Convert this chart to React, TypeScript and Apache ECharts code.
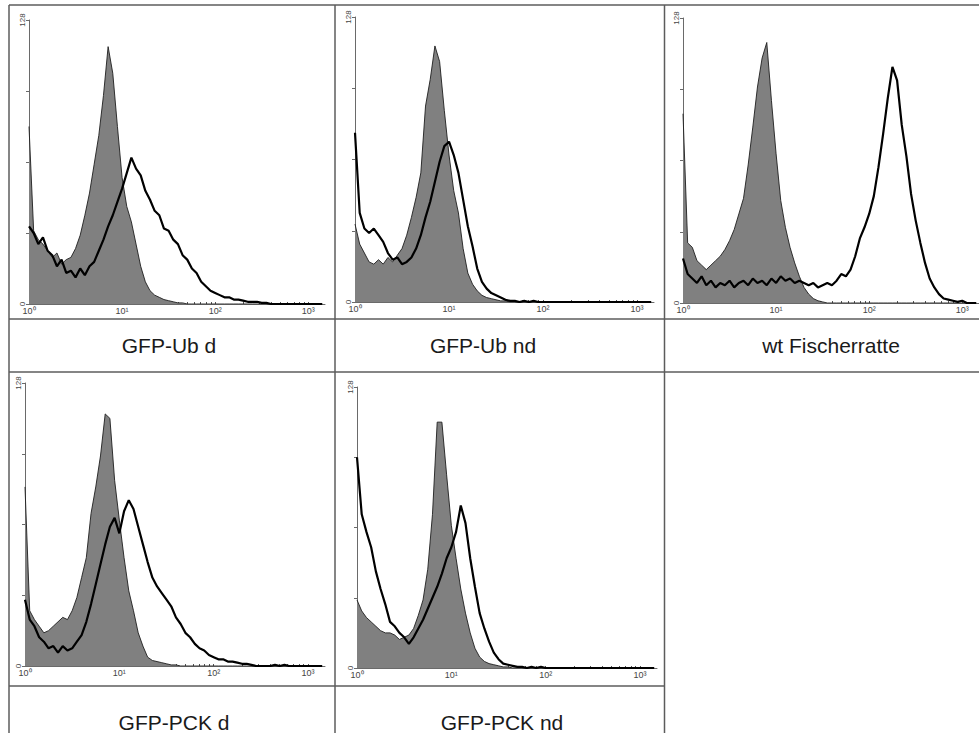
import React, { useEffect, useRef } from "react";
import * as echarts from "echarts";

// log10 of the fluorescence channel (x positions of histogram bins)
const LOG_X = [
  0.0, 0.05, 0.1, 0.15, 0.2, 0.25, 0.3, 0.35, 0.4, 0.45, 0.5, 0.55, 0.6, 0.65, 0.7, 0.75,
  0.8, 0.85, 0.9, 0.95, 1.0, 1.05, 1.1, 1.15, 1.2, 1.25, 1.3, 1.35, 1.4, 1.45, 1.5, 1.55,
  1.6, 1.65, 1.7, 1.75, 1.8, 1.85, 1.9, 1.95, 2.0, 2.05, 2.1, 2.15, 2.2, 2.25, 2.3, 2.35,
  2.4, 2.45, 2.5, 2.55, 2.6, 2.65, 2.7, 2.75, 2.8, 2.85, 2.9, 2.95, 3.0, 3.05, 3.1, 3.15,
];

const PANEL_TITLES = ["GFP-Ub d", "GFP-Ub nd", "wt Fischerratte", "GFP-PCK d", "GFP-PCK nd"];
const X_TICK_VALUES = [0, 1, 2, 3];
const X_TICK_LABELS = ["10⁰", "10¹", "10²", "10³"];
const Y_LABEL_VALUES = [0, 128];
const Y_MAX = 128;
const Y_INTERVAL = 32;

// Panel 1: GFP-Ub d
const UBD_CONTROL = [
  80, 33, 29, 27, 24, 21, 23, 18, 20, 21, 25, 31, 40, 50, 63, 76,
  94, 116, 104, 80, 57, 44, 37, 27, 17, 10, 6, 4, 3, 2, 1.5, 1,
  0.5, 0.5, 0, 0, 0, 0, 0, 0, 0, 0, 0, 0, 0, 0, 0, 0,
  0, 0, 0, 0, 0, 0, 0, 0, 0, 0, 0, 0, 0, 0, 0, 0,
];
const UBD_SAMPLE = [
  35, 32, 27, 30, 24, 22, 17, 20, 14, 15, 12, 16, 13, 17, 19, 24,
  29, 35, 40, 46, 52, 59, 66, 61, 58, 51, 47, 42, 40, 34, 33, 29,
  27, 22, 20, 16, 14, 10, 8, 6, 5, 4, 3, 3, 2, 2, 1.5, 1,
  1, 1, 0.5, 0.5, 0, 0, 0, 0, 0, 0, 0, 0, 0, 0, 0, 0,
];

// Panel 2: GFP-Ub nd
const UBND_CONTROL = [
  35, 26, 22, 18, 17, 19, 17, 20, 18, 21, 24, 30, 38, 47, 58, 88,
  100, 115, 108, 86, 66, 50, 40, 24, 13, 8, 5, 3, 2, 1.5, 1, 0.5,
  0.5, 0, 0, 0, 0, 0, 0, 0, 0, 0, 0, 0, 0, 0, 0, 0,
  0, 0, 0, 0, 0, 0, 0, 0, 0, 0, 0, 0, 0, 0, 0, 0,
];
const UBND_SAMPLE = [
  76, 40, 33, 31, 33, 30, 27, 22, 19, 20, 17, 18, 20, 24, 30, 38,
  45, 54, 63, 70, 72, 66, 58, 46, 34, 25, 15, 9, 6, 4, 3, 2,
  1, 0.5, 0.5, 0, 0.5, 0, 0.5, 0, 0, 0, 0, 0, 0, 0, 0, 0,
  0, 0, 0, 0, 0, 0, 0, 0, 0, 0, 0, 0, 0, 0, 0, 0,
];

// Panel 3: wt Fischerratte
const WT_CONTROL = [
  85, 27, 25, 19, 17, 15, 17, 19, 21, 24, 28, 33, 40, 47, 62, 79,
  97, 110, 117, 91, 67, 46, 34, 25, 18, 12, 7, 4, 2, 1, 0.5, 0,
  0, 0, 0, 0, 0, 0, 0, 0, 0, 0, 0, 0, 0, 0, 0, 0,
  0, 0, 0, 0, 0, 0, 0, 0, 0, 0, 0, 0, 0, 0, 0, 0,
];
const WT_SAMPLE = [
  20, 13, 11, 9, 12, 8, 10, 7, 9, 8, 10, 7, 9, 10, 8, 11,
  9, 10, 8, 11, 9, 12, 10, 11, 9, 10, 9, 8, 9, 7, 8, 9,
  8, 10, 13, 12, 15, 21, 29, 34, 40, 48, 61, 76, 92, 106,
  100, 80, 66, 49, 37, 27, 18, 11, 7, 4, 2, 1.5, 1, 0.5, 1, 0, 0, 0,
];

// Panel 4: GFP-PCK d
const PCKD_CONTROL = [
  81, 25, 21, 18, 15, 16, 18, 20, 22, 21, 25, 31, 40, 49, 69, 81,
  95, 114, 112, 84, 66, 49, 34, 25, 15, 9, 4, 2.5, 2, 1.5, 1, 0.5,
  0.5, 0, 0, 0, 0, 0, 0, 0, 0, 0, 0, 0, 0, 0, 0, 0,
  0, 0, 0, 0, 0, 0, 0, 0, 0, 0, 0, 0, 0, 0, 0, 0,
];
const PCKD_SAMPLE = [
  30, 21, 18, 13, 11, 8, 9, 6, 9, 7, 8, 11, 14, 20, 28, 37,
  46, 55, 63, 67, 60, 70, 75, 71, 63, 55, 47, 40, 36, 33, 30, 27,
  22, 19, 15, 13, 10, 8, 7, 5, 4, 3, 3, 2, 2, 1.5, 1, 1,
  0.5, 0, 0, 0, 0, 0.5, 0, 0.5, 0, 0, 0, 0, 0, 0, 0, 0,
];

// Panel 5: GFP-PCK nd
const PCKND_CONTROL = [
  31, 26, 23, 21, 19, 17, 16, 16, 15, 13, 14, 15, 18, 24, 31, 45,
  70, 112, 112, 88, 65, 50, 36, 25, 16, 9, 5, 3, 2, 1.5, 1, 0.5,
  0.5, 0, 0, 0, 0, 0, 0, 0, 0, 0, 0, 0, 0, 0, 0, 0,
  0, 0, 0, 0, 0, 0, 0, 0, 0, 0, 0, 0, 0, 0, 0, 0,
];
const PCKND_SAMPLE = [
  96, 70, 62, 55, 44, 36, 29, 21, 19, 16, 14, 11, 14, 18, 22, 27,
  32, 37, 43, 50, 55, 62, 74, 66, 50, 37, 25, 18, 12, 7, 4, 2,
  1.5, 1, 0.5, 0.5, 0, 0.5, 0, 0.5, 0, 0, 0, 0, 0, 0, 0, 0,
  0, 0, 0, 0, 0, 0, 0, 0, 0, 0, 0, 0, 0, 0, 0, 0,
];

const PANEL_DATA = [
  [UBD_CONTROL, UBD_SAMPLE],
  [UBND_CONTROL, UBND_SAMPLE],
  [WT_CONTROL, WT_SAMPLE],
  [PCKD_CONTROL, PCKD_SAMPLE],
  [PCKND_CONTROL, PCKND_SAMPLE],
];

// layout (pixels)
const GRIDS = [
  { left: 29, top: 20, width: 296, height: 284 },
  { left: 355, top: 17, width: 299, height: 285 },
  { left: 683, top: 18, width: 296, height: 285 },
  { left: 25, top: 383, width: 300, height: 283 },
  { left: 357, top: 387, width: 300, height: 281 },
];
const TITLE_POS = [
  { x: 169, y: 345 },
  { x: 483, y: 345 },
  { x: 831, y: 345 },
  { x: 174, y: 722 },
  { x: 502, y: 722 },
];

const X_MAX = 3.18;
const MINOR_TICKS: number[] = [];
for (let d = 0; d < 3; d++) {
  for (let k = 1; k <= 9; k++) MINOR_TICKS.push(+(d + Math.log10(k)).toFixed(4));
}
MINOR_TICKS.push(3);

export default function App() {
  const ref = useRef<HTMLDivElement>(null);
  useEffect(() => {
    if (!ref.current) return;
    const chart = echarts.init(ref.current, null, { renderer: "svg" });
    const axisColor = "#6a6a6a";
    const grid = GRIDS.map((g) => ({ ...g, containLabel: false, outerBoundsMode: "none" }));
    const xAxis = GRIDS.map((_, i) => ({
      type: "value",
      gridIndex: i,
      min: 0,
      max: X_MAX,
      interval: 1,
      splitLine: { show: false },
      axisLine: { show: true, onZero: false, lineStyle: { color: axisColor, width: 1 } },
      axisTick: {
        show: true,
        inside: true,
        length: 2,
        customValues: MINOR_TICKS,
        lineStyle: { color: "#555", width: 1 },
      },
      axisLabel: {
        show: true,
        customValues: X_TICK_VALUES,
        formatter: (v: number) => X_TICK_LABELS[Math.round(v)] ?? "",
        fontSize: 9,
        color: "#444",
        margin: 2,
        fontFamily: "Liberation Sans, Arial, sans-serif",
      },
    }));
    const yAxis = GRIDS.map((_, i) => ({
      type: "value",
      gridIndex: i,
      min: 0,
      max: Y_MAX,
      interval: Y_INTERVAL,
      splitLine: { show: false },
      axisLine: { show: true, lineStyle: { color: axisColor, width: 1 } },
      axisTick: { show: true, length: 3, lineStyle: { color: axisColor } },
      axisLabel: {
        show: true,
        customValues: Y_LABEL_VALUES,
        rotate: 90,
        fontSize: 8,
        color: "#444",
        margin: 3,
        fontFamily: "Liberation Sans, Arial, sans-serif",
      },
    }));
    const series: any[] = [];
    PANEL_DATA.forEach(([control, sample], i) => {
      series.push({
        type: "line",
        xAxisIndex: i,
        yAxisIndex: i,
        showSymbol: false,
        silent: true,
        data: LOG_X.map((x, j) => [x, control[j]]),
        lineStyle: { color: "#1e1e1e", width: 0.9 },
        areaStyle: { color: "#808080", opacity: 1 },
        z: 2,
      });
      series.push({
        type: "line",
        xAxisIndex: i,
        yAxisIndex: i,
        showSymbol: false,
        silent: true,
        data: LOG_X.map((x, j) => [x, sample[j]]),
        lineStyle: { color: "#000", width: 2.2 },
        z: 3,
      });
    });
    const lineStyle = { stroke: "#5c5c5c", lineWidth: 1.5 };
    const borderLines = [
      [9, 5, 979, 5],
      [9, 319, 979, 319],
      [9, 372, 979, 372],
      [9, 686, 664.5, 686],
      [9, 5, 9, 733],
      [335, 5, 335, 733],
      [664.5, 5, 664.5, 733],
    ].map(([x1, y1, x2, y2]) => ({
      type: "line",
      shape: { x1, y1, x2, y2 },
      style: lineStyle,
      silent: true,
    }));
    const titles = PANEL_TITLES.map((t, i) => ({
      type: "text",
      x: TITLE_POS[i].x,
      y: TITLE_POS[i].y,
      style: {
        text: t,
        fill: "#1a1a1a",
        font: "21px 'Liberation Sans', Arial, sans-serif",
        textAlign: "center",
        textVerticalAlign: "middle",
      },
      silent: true,
    }));
    chart.setOption({
      animation: false,
      backgroundColor: "#ffffff",
      grid,
      xAxis,
      yAxis,
      series,
      graphic: [...borderLines, ...titles],
    });
    return () => chart.dispose();
  }, []);
  return (
    <div
      ref={ref}
      style={{ position: "fixed", left: 0, top: 0, width: 979, height: 733, background: "#fff" }}
    />
  );
}
